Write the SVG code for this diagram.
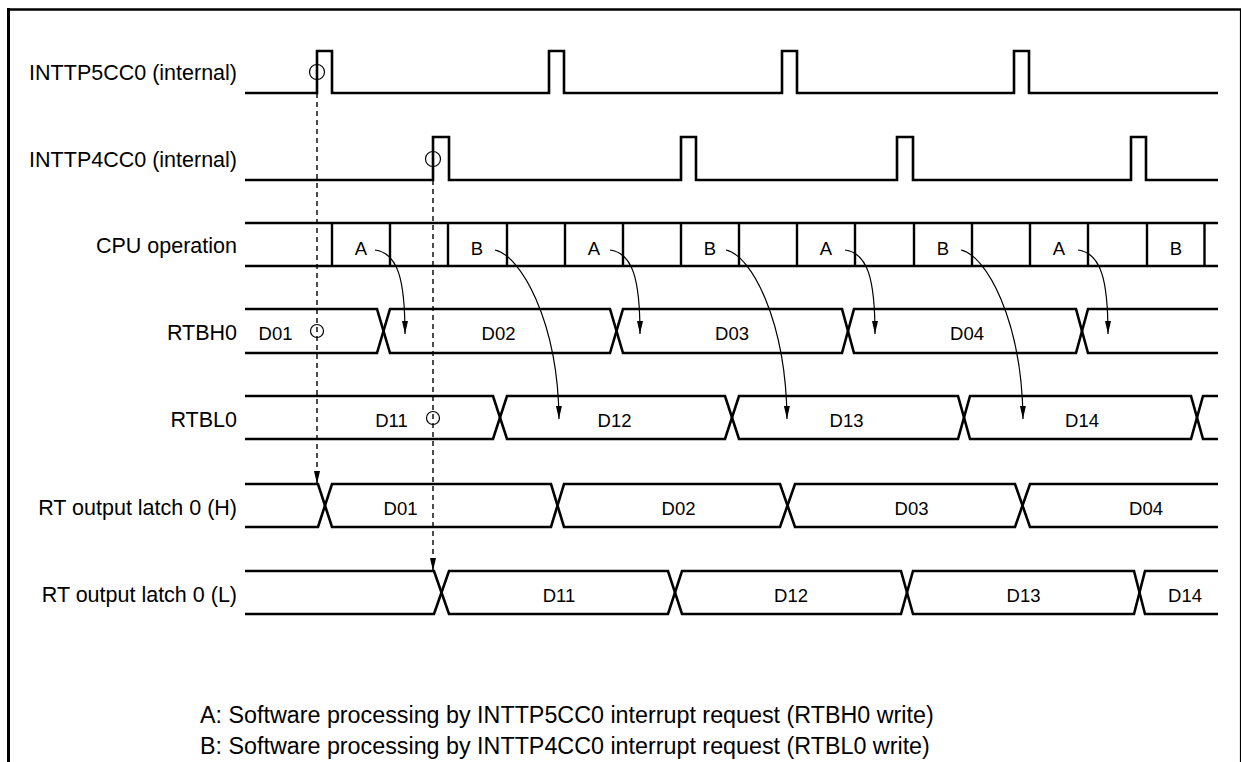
<svg xmlns="http://www.w3.org/2000/svg" width="1241" height="762" viewBox="0 0 1241 762">
<style>
text{font-family:"Liberation Sans",Arial,Helvetica,sans-serif;fill:#000}
.lbl{font-size:21.5px;text-anchor:end}
.in{font-size:18.5px;text-anchor:middle}
.leg{font-size:23.3px}
.sig{fill:none;stroke:#000;stroke-width:2.6;stroke-linejoin:miter}
.div{stroke:#000;stroke-width:2.4}
.mark{fill:none;stroke:#000;stroke-width:1.2}
.dash{fill:none;stroke:#000;stroke-width:1.4;stroke-dasharray:5,4}
.cur{fill:none;stroke:#000;stroke-width:1.2}
</style>
<defs>
<marker id="ah" markerWidth="13" markerHeight="6" refX="13" refY="3" orient="auto" markerUnits="userSpaceOnUse"><path d="M0,0 L13,3 L0,6 z" fill="#000"/></marker>
</defs>
<rect width="1241" height="762" fill="#fff"/>
<g id="frame">
<path d="M7,9.5 H1241" stroke="#000" stroke-width="2.6" fill="none"/>
<path d="M8.5,8 V762" stroke="#000" stroke-width="3" fill="none"/>
<path d="M1240.5,9 V762" stroke="#000" stroke-width="1.2" fill="none"/>
</g>
<g id="inttp5cc0">
<text class="lbl" x="237" y="80">INTTP5CC0 (internal)</text>
<path class="sig" d="M245,93 H317 V51 H332 V93 H549 V51 H564 V93 H782 V51 H797 V93 H1014 V51 H1029 V93 H1218"/>
<circle class="mark" cx="317" cy="72" r="7.5"/>
</g>
<g id="inttp4cc0">
<text class="lbl" x="237" y="167">INTTP4CC0 (internal)</text>
<path class="sig" d="M245,180 H433 V137 H449 V180 H681 V137 H696 V180 H897 V137 H913 V180 H1131 V137 H1146 V180 H1218"/>
<circle class="mark" cx="433" cy="159" r="7.5"/>
</g>
<g id="cpu">
<text class="lbl" x="237" y="253">CPU operation</text>
<path class="sig" d="M245,223 H1218 M245,266 H1218"/>
<path class="div" d="M332,223 V266 M390,223 V266 M448,223 V266 M507,223 V266 M565,223 V266 M623,223 V266 M681,223 V266 M739,223 V266 M797,223 V266 M855,223 V266 M914,223 V266 M972,223 V266 M1030,223 V266 M1088,223 V266 M1147,223 V266 M1204.5,223 V266"/>
<text class="in" x="361" y="255">A</text>
<text class="in" x="477" y="255">B</text>
<text class="in" x="594" y="255">A</text>
<text class="in" x="710" y="255">B</text>
<text class="in" x="826" y="255">A</text>
<text class="in" x="943" y="255">B</text>
<text class="in" x="1059" y="255">A</text>
<text class="in" x="1176" y="255">B</text>
</g>
<g id="rtbh0">
<text class="lbl" x="237" y="340">RTBH0</text>
<path class="sig" d="M245,309 H377 L390,353 H610 L623,309 H842 L854,353 H1076 L1088,309 H1218"/>
<path class="sig" d="M245,353 H377 L390,309 H610 L623,353 H842 L854,309 H1076 L1088,353 H1218"/>
<text class="in" x="275.5" y="340">D01</text>
<circle class="mark" cx="317" cy="331" r="6.5"/>
<text class="in" x="498.5" y="340">D02</text>
<text class="in" x="732" y="340">D03</text>
<text class="in" x="967" y="340">D04</text>
</g>
<g id="rtbl0">
<text class="lbl" x="237" y="427">RTBL0</text>
<path class="sig" d="M245,396 H493 L507,439 H725 L739,396 H958 L970,439 H1191 L1203,396 H1218"/>
<path class="sig" d="M245,439 H493 L507,396 H725 L739,439 H958 L970,396 H1191 L1203,439 H1218"/>
<text class="in" x="391.5" y="427">D11</text>
<circle class="mark" cx="433" cy="418" r="6.5"/>
<text class="in" x="614.5" y="427">D12</text>
<text class="in" x="846.5" y="427">D13</text>
<text class="in" x="1082" y="427">D14</text>
</g>
<g id="latch-h">
<text class="lbl" x="237" y="515">RT output latch 0 (H)</text>
<path class="sig" d="M245,484 H318 L332,527 H551 L564,484 H780 L795,527 H1015 L1030,484 H1218"/>
<path class="sig" d="M245,527 H318 L332,484 H551 L564,527 H780 L795,484 H1015 L1030,527 H1218"/>
<text class="in" x="400.5" y="515">D01</text>
<text class="in" x="678.5" y="515">D02</text>
<text class="in" x="911.5" y="515">D03</text>
<text class="in" x="1146" y="515">D04</text>
</g>
<g id="latch-l">
<text class="lbl" x="237" y="602">RT output latch 0 (L)</text>
<path class="sig" d="M245,571 H434 L449,614 H668 L682,571 H901 L913,614 H1134 L1145,571 H1218"/>
<path class="sig" d="M245,614 H434 L449,571 H668 L682,614 H901 L913,571 H1134 L1145,614 H1218"/>
<text class="in" x="559" y="602">D11</text>
<text class="in" x="791" y="602">D12</text>
<text class="in" x="1023.5" y="602">D13</text>
<text class="in" x="1185" y="602">D14</text>
</g>
<g id="connectors">
<path class="dash" d="M317,93 V484" marker-end="url(#ah)"/>
<path class="dash" d="M433,180 V571" marker-end="url(#ah)"/>
<path class="cur" d="M375,250 C398,253 405,280 405,334" marker-end="url(#ah)"/>
<path class="cur" d="M495,250 C520,255 558,320 559,419" marker-end="url(#ah)"/>
<path class="cur" d="M610,250 C633,253 640,280 640,334" marker-end="url(#ah)"/>
<path class="cur" d="M726,250 C751,255 786,320 787,419" marker-end="url(#ah)"/>
<path class="cur" d="M845,250 C868,253 875,280 875,334" marker-end="url(#ah)"/>
<path class="cur" d="M961,250 C986,255 1022,320 1023,419" marker-end="url(#ah)"/>
<path class="cur" d="M1078,250 C1101,253 1108,280 1108,334" marker-end="url(#ah)"/>
</g>
<g id="legend">
<text class="leg" x="200" y="723">A: Software processing by INTTP5CC0 interrupt request (RTBH0 write)</text>
<text class="leg" x="200" y="754">B: Software processing by INTTP4CC0 interrupt request (RTBL0 write)</text>
</g>
</svg>
